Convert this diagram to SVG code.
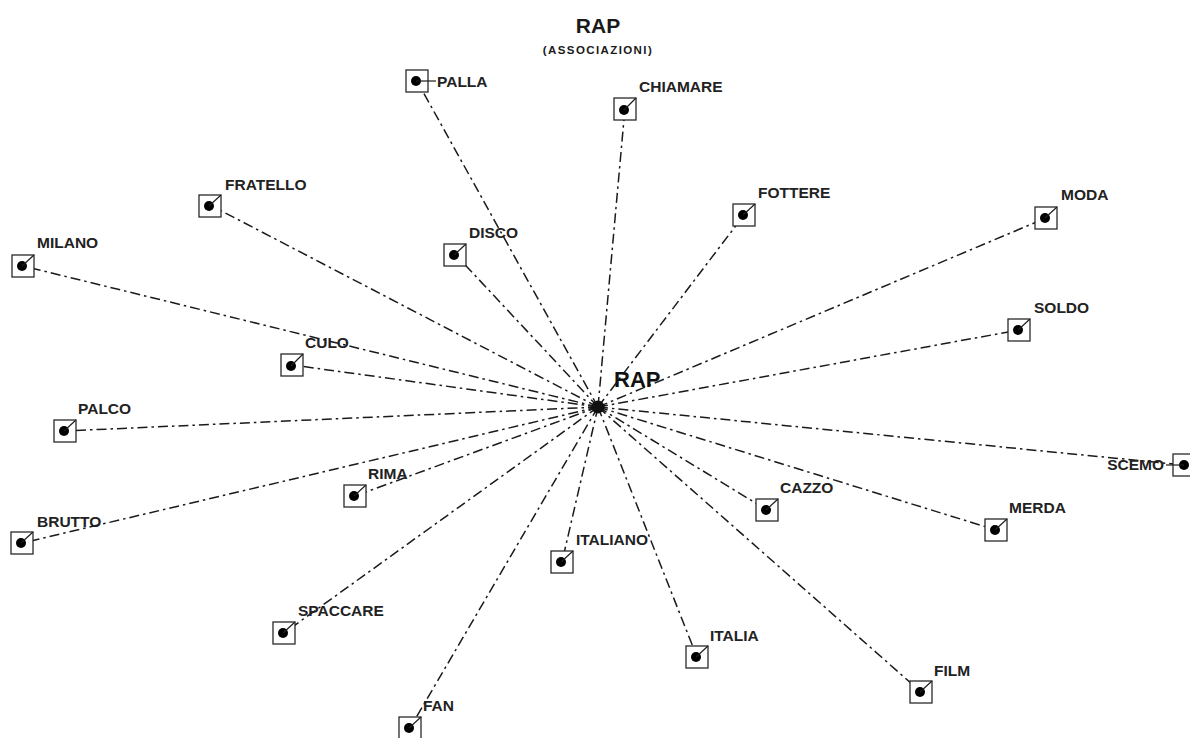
<svg xmlns="http://www.w3.org/2000/svg" width="1190" height="738" viewBox="0 0 1190 738">
<style>
.bg{fill:#ffffff}
.conn{stroke:#1a1a1a;stroke-width:1.5;fill:none;stroke-dasharray:10 4 2.5 4}
.box{fill:#ffffff;stroke:#2a2a2a;stroke-width:1.3}
.dot{fill:#000000}
.lead{stroke:#1e1e1e;stroke-width:1.2}
.lbl{font-family:"Liberation Sans",Arial,sans-serif;font-weight:bold;font-size:15.5px;fill:#222222}
.big{font-size:22px;fill:#111111}
.title{font-family:"Liberation Sans",Arial,sans-serif;font-weight:bold;fill:#1a1a1a;text-anchor:middle}
</style>
<rect class="bg" x="0" y="0" width="1190" height="738"/>
<text class="title" x="598" y="33" font-size="21">RAP</text>
<text class="title" x="598" y="54" font-size="11.5" letter-spacing="1.4">(ASSOCIAZIONI)</text>
<g id="connectors">
<path class="conn" d="M598,407 L417,81"/>
<path class="conn" d="M598,407 L625,108"/>
<path class="conn" d="M598,407 L210,205"/>
<path class="conn" d="M598,407 L455,254"/>
<path class="conn" d="M598,407 L744,215"/>
<path class="conn" d="M598,407 L1046,218"/>
<path class="conn" d="M598,407 L23,266"/>
<path class="conn" d="M598,407 L292,365"/>
<path class="conn" d="M598,407 L1019,330"/>
<path class="conn" d="M598,407 L65,431"/>
<path class="conn" d="M598,407 L1184,465"/>
<path class="conn" d="M598,407 L355,496"/>
<path class="conn" d="M598,407 L767,510"/>
<path class="conn" d="M598,407 L996,530"/>
<path class="conn" d="M598,407 L22,543"/>
<path class="conn" d="M598,407 L562,562"/>
<path class="conn" d="M598,407 L284,633"/>
<path class="conn" d="M598,407 L697,657"/>
<path class="conn" d="M598,407 L921,692"/>
<path class="conn" d="M598,407 L410,728"/>
<circle cx="598" cy="407" r="6.5" fill="#111"/>
</g>
<g id="n-rap"><text class="lbl big" x="614" y="387">RAP</text></g>
<g id="n-palla"><rect class="box" x="406" y="70" width="22" height="22"/><circle class="dot" cx="416" cy="81" r="5"/><line class="lead" x1="416" y1="81" x2="436" y2="81"/><text class="lbl" x="437" y="87">PALLA</text></g>
<g id="n-chiamare"><rect class="box" x="614" y="98" width="22" height="22"/><circle class="dot" cx="624" cy="110" r="5"/><line class="lead" x1="624" y1="110" x2="636" y2="98"/><text class="lbl" x="639" y="92">CHIAMARE</text></g>
<g id="n-fratello"><rect class="box" x="199" y="195" width="22" height="22"/><circle class="dot" cx="209" cy="206" r="5"/><line class="lead" x1="209" y1="206" x2="221" y2="195"/><text class="lbl" x="225" y="190">FRATELLO</text></g>
<g id="n-disco"><rect class="box" x="444" y="244" width="22" height="22"/><circle class="dot" cx="454" cy="255" r="5"/><line class="lead" x1="454" y1="255" x2="466" y2="244"/><text class="lbl" x="469" y="238">DISCO</text></g>
<g id="n-fottere"><rect class="box" x="733" y="204" width="22" height="22"/><circle class="dot" cx="743" cy="215" r="5"/><line class="lead" x1="743" y1="215" x2="755" y2="204"/><text class="lbl" x="758" y="198">FOTTERE</text></g>
<g id="n-moda"><rect class="box" x="1035" y="207" width="22" height="22"/><circle class="dot" cx="1045" cy="218" r="5"/><line class="lead" x1="1045" y1="218" x2="1057" y2="207"/><text class="lbl" x="1061" y="200">MODA</text></g>
<g id="n-milano"><rect class="box" x="12" y="255" width="22" height="22"/><circle class="dot" cx="22" cy="266" r="5"/><line class="lead" x1="22" y1="266" x2="34" y2="255"/><text class="lbl" x="37" y="248">MILANO</text></g>
<g id="n-culo"><rect class="box" x="281" y="354" width="22" height="22"/><circle class="dot" cx="291" cy="366" r="5"/><line class="lead" x1="291" y1="366" x2="303" y2="354"/><text class="lbl" x="305" y="348">CULO</text></g>
<g id="n-soldo"><rect class="box" x="1008" y="319" width="22" height="22"/><circle class="dot" cx="1018" cy="330" r="5"/><line class="lead" x1="1018" y1="330" x2="1030" y2="319"/><text class="lbl" x="1034" y="313">SOLDO</text></g>
<g id="n-palco"><rect class="box" x="54" y="420" width="22" height="22"/><circle class="dot" cx="64" cy="431" r="5"/><line class="lead" x1="64" y1="431" x2="76" y2="420"/><text class="lbl" x="78" y="414">PALCO</text></g>
<g id="n-scemo"><rect class="box" x="1173" y="454" width="22" height="22"/><circle class="dot" cx="1184" cy="465" r="5"/><line class="lead" x1="1184" y1="465" x2="1166" y2="465"/><text class="lbl" x="1164" y="470" text-anchor="end">SCEMO</text></g>
<g id="n-rima"><rect class="box" x="344" y="485" width="22" height="22"/><circle class="dot" cx="354" cy="496" r="5"/><line class="lead" x1="354" y1="496" x2="366" y2="485"/><text class="lbl" x="368" y="479">RIMA</text></g>
<g id="n-cazzo"><rect class="box" x="756" y="499" width="22" height="22"/><circle class="dot" cx="766" cy="510" r="5"/><line class="lead" x1="766" y1="510" x2="778" y2="499"/><text class="lbl" x="780" y="493">CAZZO</text></g>
<g id="n-merda"><rect class="box" x="985" y="519" width="22" height="22"/><circle class="dot" cx="995" cy="530" r="5"/><line class="lead" x1="995" y1="530" x2="1007" y2="519"/><text class="lbl" x="1009" y="513">MERDA</text></g>
<g id="n-brutto"><rect class="box" x="11" y="532" width="22" height="22"/><circle class="dot" cx="21" cy="543" r="5"/><line class="lead" x1="21" y1="543" x2="33" y2="532"/><text class="lbl" x="37" y="527">BRUTTO</text></g>
<g id="n-italiano"><rect class="box" x="551" y="551" width="22" height="22"/><circle class="dot" cx="561" cy="562" r="5"/><line class="lead" x1="561" y1="562" x2="573" y2="551"/><text class="lbl" x="576" y="545">ITALIANO</text></g>
<g id="n-spaccare"><rect class="box" x="273" y="622" width="22" height="22"/><circle class="dot" cx="283" cy="633" r="5"/><line class="lead" x1="283" y1="633" x2="295" y2="622"/><text class="lbl" x="298" y="616">SPACCARE</text></g>
<g id="n-italia"><rect class="box" x="686" y="646" width="22" height="22"/><circle class="dot" cx="696" cy="657" r="5"/><line class="lead" x1="696" y1="657" x2="708" y2="646"/><text class="lbl" x="710" y="641">ITALIA</text></g>
<g id="n-film"><rect class="box" x="910" y="681" width="22" height="22"/><circle class="dot" cx="920" cy="692" r="5"/><line class="lead" x1="920" y1="692" x2="932" y2="681"/><text class="lbl" x="934" y="676">FILM</text></g>
<g id="n-fan"><rect class="box" x="399" y="717" width="22" height="22"/><circle class="dot" cx="409" cy="728" r="5"/><line class="lead" x1="409" y1="728" x2="421" y2="717"/><text class="lbl" x="423" y="711">FAN</text></g>
</svg>
